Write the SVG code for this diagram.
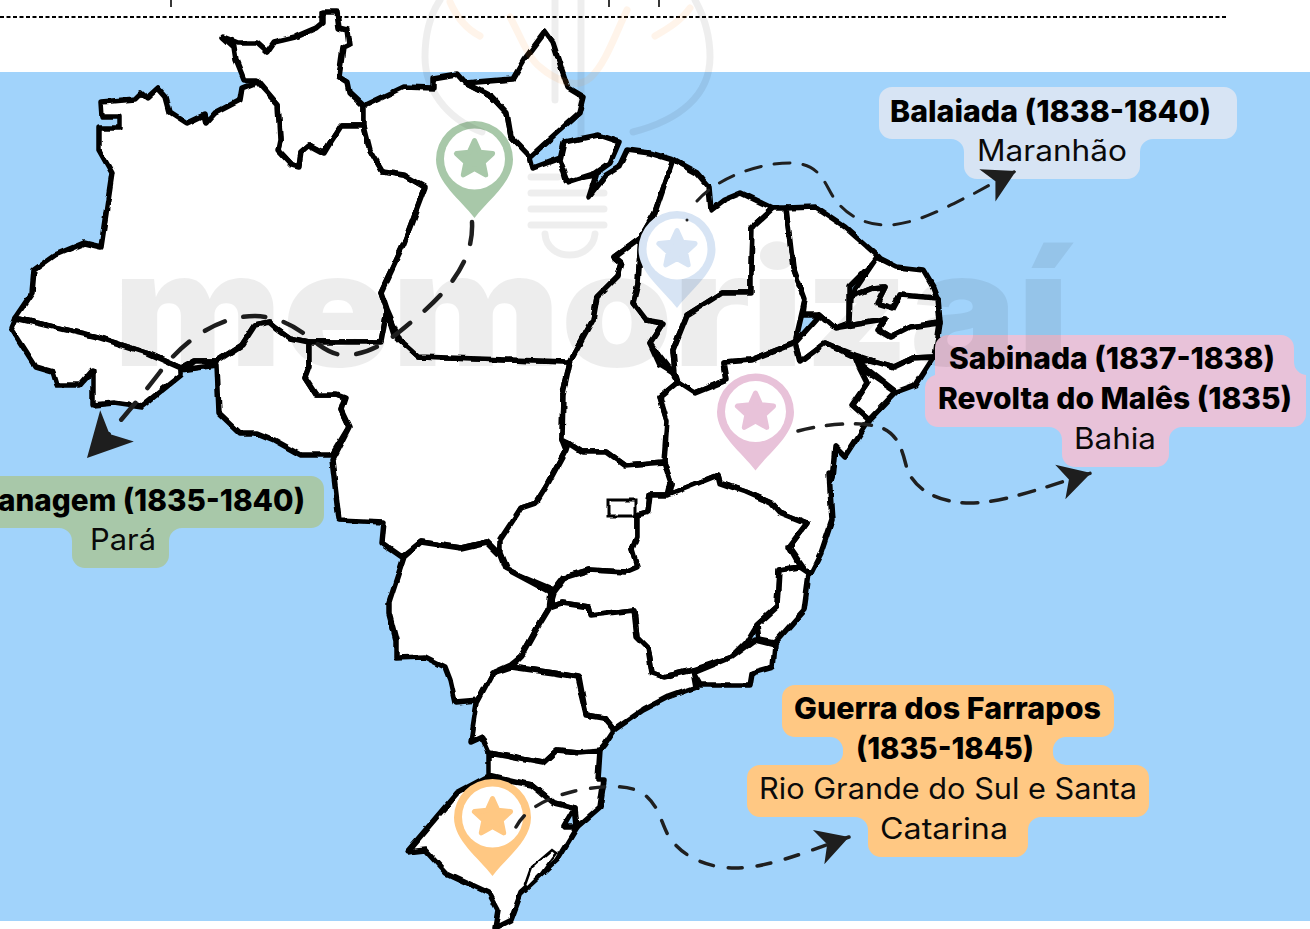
<svg xmlns="http://www.w3.org/2000/svg" width="1310" height="929" viewBox="0 0 1310 929">
<style>
.st{fill:#fff;stroke:#000;stroke-width:5.500;stroke-linejoin:round;stroke-linecap:round}
.dash{fill:none;stroke:#1f1f1f;stroke-linecap:round}
.b{font:800 30px Inter,"Liberation Sans",sans-serif;fill:#000}
.r{font:400 29.5px Inter,"Liberation Sans",sans-serif;fill:#0a0a0a}
.wm{font:900 160px Inter,"Liberation Sans",sans-serif;fill:#000;opacity:.065}
.lamp{fill:none;stroke:#000;stroke-opacity:.065;stroke-width:7;stroke-linecap:round}
.lampo{fill:none;stroke:#ff9a3c;stroke-opacity:.11;stroke-width:7;stroke-linecap:round}
</style>
<defs>
<filter id="rough" filterUnits="userSpaceOnUse" x="0" y="0" width="1310" height="929"><feTurbulence type="fractalNoise" baseFrequency=".07" numOctaves="2" seed="4" result="n"/><feDisplacementMap in="SourceGraphic" in2="n" scale="4.500" xChannelSelector="R" yChannelSelector="G"/><feGaussianBlur stdDeviation=".45"/></filter>
<marker id="head" viewBox="-34 -20 36 40" markerWidth="36" markerHeight="40" refX="0" refY="0" orient="auto" markerUnits="userSpaceOnUse"><path d="M0 0L-32-18L-23 0L-32 18Z" fill="#1e1e1e"/></marker>
<marker id="headL" viewBox="-46 -25 48 50" markerWidth="48" markerHeight="50" refX="0" refY="0" orient="auto" markerUnits="userSpaceOnUse"><path d="M0 0L-44-23L-33 0L-44 23Z" fill="#1e1e1e"/></marker>
<g id="pin">
<path d="M0 58.5C-14 40-38.500 23-38.500 0A38.500 38.500 0 1 1 38.500 0C38.500 23 14 40 0 58.500Z"/>
<circle cx="0" cy="-.5" r="30.500" fill="#fff"/>
<path d="M0-19L5.300-7.300L18.100-5.900L8.600 2.800L11.200 15.400L0 9L-11.200 15.400L-8.600 2.800L-18.100-5.900L-5.300-7.300Z" stroke-width="5" stroke-linejoin="round" stroke="currentColor"/>
</g>
</defs>
<rect width="1310" height="929" fill="#fff"/>
<g id="page-top">
<path d="M0 17H1227" stroke="#000" stroke-width="1.800" stroke-dasharray="4 2.500" fill="none"/>
<path d="M171 0V7M609 0V7M659 0V7" stroke="#222" stroke-width="1.800" fill="none"/>
</g>
<rect id="sea" x="0" y="72" width="1310" height="849" fill="#A1D3FB"/>
<g id="map" filter="url(#rough)">
<polygon id="roraima" class="st" points="223,37 238,43 257,43 267,52 274,42 295,37 316,28 322,23 322,12 337,12 339,28 347,30 349,45 343,48 339,77 347,82 349,92 364,106 364,126 341,126 330,143 324,153 309,145 301,152 299,167 292,165 278,150 280,140 278,105 257,80 244,80 236,60 234,47"/>
<polygon id="amazonas" class="st" points="101,102 135,99 141,93 147,98 158,88 166,97 170,112 187,123 204,115 206,123 215,113 240,100 242,88 257,82 278,105 280,140 278,150 292,165 299,167 301,152 309,145 324,153 330,143 341,126 364,126 370,150 383,172 404,175 425,187 404,243 381,292 387,310 381,342 309,342 290,338 276,328 269,322 255,325 242,345 217,361 194,361 181,368 147,353 97,337 15,318 32,293 34,270 55,255 84,243 101,247 112,173 99,150 99,128 120,128 120,117 102,117"/>
<polygon id="acre" class="st" points="15,318 97,337 147,353 181,368 181,375 141,407 114,403 93,405 93,370 80,385 57,385 53,372 36,367 11,328"/>
<polygon id="rondonia" class="st" points="217,365 181,370 194,361 217,361 242,345 255,325 269,322 276,328 290,338 309,342 309,367 305,378 316,395 337,395 345,398 341,410 349,427 332,455 301,455 274,440 257,433 240,433 219,413"/>
<polygon id="mato-grosso" class="st" points="309,342 381,342 387,310 395,335 419,357 570,362 563,395 562,440 566,450 546,487 536,503 521,508 500,545 500,555 487,542 461,548 421,542 402,557 382,543 384,522 339,520 332,460 349,427 341,410 345,398 337,395 316,395 305,378 309,367"/>
<polygon id="para" class="st" points="364,106 404,87 433,88 433,78 457,74 465,83 492,97 507,113 511,137 530,157 533,168 560,158 566,180 596,175 589,197 606,175 619,167 627,150 650,153 673,160 655,213 641,237 614,257 621,263 617,277 597,297 593,320 570,362 419,357 400,340 387,310 381,292 404,243 425,187 404,175 383,172 370,150 364,126"/>
<polygon id="amapa" class="st" points="465,83 513,79 524,60 545,32 553,43 568,88 583,97 579,113 541,147 530,157 511,137 507,113 492,97"/>
<polygon id="marajo" class="st" points="564,142 598,135 619,142 610,163 596,173 568,182 560,160"/>
<polygon id="tocantins" class="st" points="614,257 641,237 638,283 633,303 646,320 663,323 650,343 660,365 673,373 678,382 660,397 667,420 670,437 664,462 625,465 607,452 582,452 568,443 562,440 563,395 570,362 593,320 597,297 617,277 621,263"/>
<polygon id="maranhao" class="st" points="673,160 697,173 709,187 711,210 724,200 741,193 773,208 752,227 751,273 751,293 722,293 687,315 673,350 675,373 678,382 673,373 650,343 663,323 646,320 633,303 638,283 641,237 655,213"/>
<polygon id="piaui" class="st" points="752,227 773,208 786,208 793,267 805,300 795,343 751,360 724,362 727,380 695,393 678,382 675,373 673,350 687,315 722,293 751,293 751,273"/>
<polygon id="ceara" class="st" points="786,208 815,207 845,227 879,257 849,287 849,323 835,328 820,315 803,315 805,300 793,267"/>
<polygon id="rn" class="st" points="877,257 897,267 923,270 933,287 938,300 900,295 893,308 877,303 885,287 873,288 850,297"/>
<polygon id="paraiba" class="st" points="850,297 873,288 885,287 877,303 893,308 900,295 938,298 940,323 910,327 890,337 878,330 885,320 865,323 840,327 849,323"/>
<polygon id="pernambuco" class="st" points="795,343 820,315 835,328 840,327 865,323 885,320 878,330 890,337 910,327 940,323 935,357 913,358 894,367 870,360 855,355 825,343 800,362"/>
<polygon id="alagoas" class="st" points="858,362 870,360 894,367 913,358 933,357 915,385 896,392"/>
<polygon id="sergipe" class="st" points="859,367 896,392 869,420 852,405 867,383"/>
<polygon id="bahia" class="st" points="664,462 667,420 660,397 678,382 695,393 727,380 724,362 751,360 795,343 800,362 825,343 855,357 859,367 867,383 852,405 869,420 845,457 835,447 832,480 829,473 832,520 821,553 811,573 807,573 789,547 807,523 779,512 771,503 746,492 720,483 718,475 668,495 671,483"/>
<polygon id="goias" class="st" points="566,450 568,443 582,452 607,452 625,465 664,462 671,483 668,495 650,495 648,512 637,515 637,537 632,550 637,567 625,572 589,570 564,577 554,590 507,570 500,553 500,540 521,508 536,503 546,487"/>
<rect id="df" x="608" y="500" width="28" height="16" fill="#fff" stroke="#000" stroke-width="3"/>
<polygon id="ms" class="st" points="404,557 421,542 461,548 487,542 500,555 505,568 550,592 548,610 536,630 521,657 511,665 493,673 479,700 455,702 450,680 445,667 425,657 396,658 396,640 389,613 389,603"/>
<polygon id="mg" class="st" points="554,593 566,577 589,570 625,572 637,567 632,550 637,537 637,515 648,512 650,495 668,495 718,475 720,483 746,492 771,503 779,512 807,523 789,547 800,567 779,570 777,607 757,625 746,643 732,657 693,670 664,677 652,673 648,648 637,637 634,610 591,615 589,607 562,603 550,607"/>
<polygon id="es" class="st" points="779,570 800,567 809,573 804,610 795,620 775,643 759,640 757,625 777,607"/>
<polygon id="rj" class="st" points="755,640 775,645 773,667 752,673 750,685 700,685 693,673 732,657"/>
<polygon id="sp" class="st" points="550,607 562,603 589,607 591,615 634,610 637,637 648,648 652,673 664,677 693,670 696,687 668,697 643,710 614,730 604,718 586,715 579,677 554,673 511,667 521,657 536,630"/>
<polygon id="pr" class="st" points="493,673 511,667 554,673 577,677 586,715 604,718 614,730 604,745 598,752 579,752 557,750 543,763 489,753 482,737 471,742 477,703"/>
<polygon id="sc" class="st" points="489,753 543,763 557,750 579,752 600,750 598,780 604,780 600,807 577,827 575,808 554,803 532,785 489,775"/>
<polygon id="rs" class="st" points="487,777 532,785 554,803 575,808 564,827 577,827 557,860 521,893 511,920 495,928 498,910 489,893 446,873 425,850 407,852 457,793"/>
<path id="lagoon" d="M525 885L531 868L552 850L556 853L540 875L527 888Z" fill="#fff" stroke="#000" stroke-width="2.500"/>
</g>
<g id="pins">
<use id="pin-para" href="#pin" x="474.500" y="159.500" fill="#A8C8A9" color="#A8C8A9"/>
<use id="pin-maranhao" href="#pin" x="677" y="249.500" fill="#D7E4F4" color="#D7E4F4"/>
<use id="pin-bahia" href="#pin" x="755.500" y="412" fill="#E8C2D9" color="#E8C2D9"/>
<use id="pin-rs" href="#pin" x="492.500" y="817.500" fill="#FFC883" color="#FFC883"/>
</g>
<g id="node-balaiada">
<path fill="#D7E4F4" d="M892 87H1224A13 13 0 0 1 1237 100V126A13 13 0 0 1 1224 139H1153A13 13 0 0 0 1140 152V166A13 13 0 0 1 1127 179H977A13 13 0 0 1 964 166V152A13 13 0 0 0 951 139H892A13 13 0 0 1 879 126V100A13 13 0 0 1 892 87Z"/>
<text class="b" x="890" y="122" textLength="321" lengthAdjust="spacingAndGlyphs">Balaiada (1838-1840)</text>
<text class="r" x="977" y="161" textLength="150" lengthAdjust="spacingAndGlyphs">Maranhão</text>
</g>
<g id="node-sabinada">
<path fill="#E8C2D9" d="M948 335H1281A13 13 0 0 1 1294 348V362A13 13 0 0 0 1306 375V414A13 13 0 0 1 1293 427H1182A13 13 0 0 0 1169 440V454A13 13 0 0 1 1156 467H1075A13 13 0 0 1 1062 454V440A13 13 0 0 0 1049 427H938A13 13 0 0 1 925 414V388A13 13 0 0 1 935 375V348A13 13 0 0 1 948 335Z"/>
<text class="b" x="949" y="369" textLength="326" lengthAdjust="spacingAndGlyphs">Sabinada (1837-1838)</text>
<text class="b" x="938" y="409" textLength="354" lengthAdjust="spacingAndGlyphs">Revolta do Malês (1835)</text>
<text class="r" x="1074" y="449" textLength="82" lengthAdjust="spacingAndGlyphs">Bahia</text>
</g>
<g id="node-cabanagem">
<path fill="#A8C8A9" d="M0 476H311A13 13 0 0 1 324 489V515A13 13 0 0 1 311 528H182A13 13 0 0 0 169 541V555A13 13 0 0 1 156 568H85A13 13 0 0 1 72 555V541A13 13 0 0 0 59 528H0Z"/>
<text class="b" x="-2" y="511" textLength="307" lengthAdjust="spacingAndGlyphs">anagem (1835-1840)</text>
<text class="r" x="90" y="550" textLength="66" lengthAdjust="spacingAndGlyphs">Pará</text>
</g>
<g id="node-farrapos">
<path fill="#FFC883" d="M795 685H1101A13 13 0 0 1 1114 698V724A13 13 0 0 1 1101 737H1066A13 13 0 0 0 1053 751A13 13 0 0 0 1066 765H1136A13 13 0 0 1 1149 778V804A13 13 0 0 1 1136 817H1041A13 13 0 0 0 1028 830V844A13 13 0 0 1 1015 857H881A13 13 0 0 1 868 844V830A13 13 0 0 0 855 817H760A13 13 0 0 1 747 804V778A13 13 0 0 1 760 765H830A13 13 0 0 0 843 751A13 13 0 0 0 830 737H795A13 13 0 0 1 782 724V698A13 13 0 0 1 795 685Z"/>
<text class="b" x="794" y="719" textLength="307" lengthAdjust="spacingAndGlyphs">Guerra dos Farrapos</text>
<text class="b" x="856" y="759" textLength="178" lengthAdjust="spacingAndGlyphs">(1835-1845)</text>
<text class="r" x="759" y="799" textLength="378" lengthAdjust="spacingAndGlyphs">Rio Grande do Sul e Santa</text>
<text class="r" x="880" y="839" textLength="128" lengthAdjust="spacingAndGlyphs">Catarina</text>
</g>
<g id="connectors">
<path class="dash" stroke-width="4.500" stroke-dasharray="22 19" marker-end="url(#headL)" d="M472 222C474 262 447 293 410 323C390 340 370 355 345 355C315 355 305 318 255 316C215 316 180 345 160 372C140 398 115 428 87 458"/>
<path class="dash" stroke-width="3" stroke-dasharray="16 13" marker-end="url(#head)" d="M697 201C715 180 755 163 790 163C825 163 825 190 838 203C850 218 870 226 890 225C920 223 950 205 975 193C988 186 1002 178 1016 171"/>
<path class="dash" stroke-width="3.500" stroke-dasharray="16 13" marker-end="url(#head)" d="M798 431C820 425 850 422 870 425C895 428 901 445 906 465C912 490 940 503 970 503C1005 503 1050 485 1091 473"/>
<path class="dash" stroke-width="3.500" stroke-dasharray="14 15" marker-end="url(#head)" d="M516 827C525 810 545 798 575 791C600 786 630 783 645 795C660 808 660 820 668 835C680 855 705 868 735 868C770 868 810 850 849 837"/>
<circle cx="687" cy="220" r="1.500" fill="#222"/>
</g>
<g id="watermark">
<text class="wm" x="113" y="366" textLength="957" lengthAdjust="spacingAndGlyphs">memorizaí</text>
<path class="lamp" d="M482 132C445 118 425 88 425 57C425 35 430 15 440 0M633 132C680 120 710 95 710 57C710 38 705 18 695 0M555 0V100M581 0V137M531 177H558M531 193H604M531 209H604M531 225H604M545 234C547 262 592 262 595 234"/>
<path class="lampo" d="M450 2C458 20 468 30 480 36M510 17C520 35 528 58 540 67C555 80 577 90 590 78C605 65 615 35 627 10M655 36C665 30 680 22 690 8"/>
</g>
</svg>
